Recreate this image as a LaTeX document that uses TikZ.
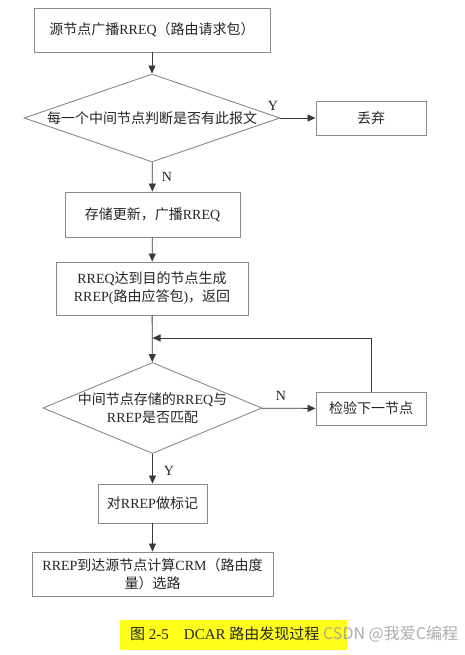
\documentclass[tikz,border=0pt]{standalone}
\usepackage{fontspec}
\setmainfont{Liberation Serif}
\newfontfamily\cjk{Noto Sans CJK SC}
\newcommand\zh[1]{{\cjk #1}}
\usetikzlibrary{arrows.meta,shapes.geometric}
\definecolor{boxgray}{HTML}{8A8A8A}
\definecolor{linegray}{HTML}{3A3A3A}
\definecolor{hl}{HTML}{FFFF1A}
\begin{document}
\begin{tikzpicture}[x=1pt,y=-1pt,
  font=\fontsize{14}{18}\selectfont,
  every node/.style={text=black!85},
  box/.style={draw=boxgray,line width=0.9pt,rectangle,inner sep=0pt,align=center},
  dia/.style={draw=boxgray,line width=0.9pt,diamond,inner sep=0pt},
  dtext/.style={align=center,inner sep=0pt},
  arr/.style={draw=linegray,line width=0.8pt,-{Triangle[length=8pt,width=7pt]}},
  lbl/.style={font=\fontsize{14}{16}\selectfont}]
\useasboundingbox (0,0) rectangle (465,655);
\fill[white] (0,0) rectangle (465,655);

\node[box,minimum width=236pt,minimum height=44pt] (src) at (152,30)
  {\zh{源节点广播}RREQ\zh{（路由请求包）}};
\node[dia,minimum width=256pt,minimum height=88pt] (d1) at (152,118) {};
\node[dtext] (d1t) at (d1.center) {\zh{每一个中间节点判断是否有此报文}};
\node[box,minimum width=110pt,minimum height=34pt] (drop) at (371,118)
  {\zh{丢弃}};
\node[box,minimum width=175pt,minimum height=45pt] (store) at (152.5,214.5)
  {\zh{存储更新，广播}RREQ};
\node[box,minimum width=192pt,minimum height=53pt] (reach) at (152,288.5)
  {RREQ\zh{达到目的节点生成}\\RREP(\zh{路由应答包})\zh{，返回}};
\node[dia,minimum width=219pt,minimum height=91pt] (d2) at (152.5,408) {};
\node[dtext] (d2t) at (d2.center) {\zh{中间节点存储的}RREQ\zh{与}\\RREP\zh{是否匹配}};
\node[box,minimum width=110pt,minimum height=33pt] (check) at (371,408.5)
  {\zh{检验下一节点}};
\node[box,minimum width=109pt,minimum height=39pt] (mark) at (152.5,503.5)
  {\zh{对}RREP\zh{做标记}};
\node[box,minimum width=241pt,minimum height=44pt] (crm) at (152.5,574)
  {RREP\zh{到达源节点计算}CRM\zh{（路由度}\\\zh{量）选路}};
\coordinate (loop) at (152.5,338);

\draw[arr] (src) -- (d1);
\draw[arr] (d1) -- (drop);
\draw[arr] (d1) -- (store);
\draw[arr] (store) -- (reach);
\draw[arr] (reach) -- (d2);
\draw[arr] (d2) -- (check);
\draw[arr] (check.north) |- (loop);
\draw[arr] (d2) -- (mark);
\draw[arr] (mark) -- (crm);

\node[lbl] (y1) at (273,106) {Y};
\node[lbl] (n1) at (167,177) {N};
\node[lbl] (n2) at (281,396) {N};
\node[lbl] (y2) at (169,471) {Y};

\node[fill=hl,minimum width=227pt,minimum height=30pt,inner sep=0pt] (cap) at (233.5,635) {};
\node[anchor=west,inner sep=0pt,font=\fontsize{15}{17}\selectfont] (capt) at (130,634)
  {\zh{图} 2-5\hspace{1em}DCAR \zh{路由发现过程}};
\node[anchor=west,inner sep=0pt,text=black!40,opacity=0.8,font=\fontsize{16}{18}\selectfont] (wm) at (323,634)
  {\zh{CSDN @我爱C编程}};
\end{tikzpicture}
\end{document}
